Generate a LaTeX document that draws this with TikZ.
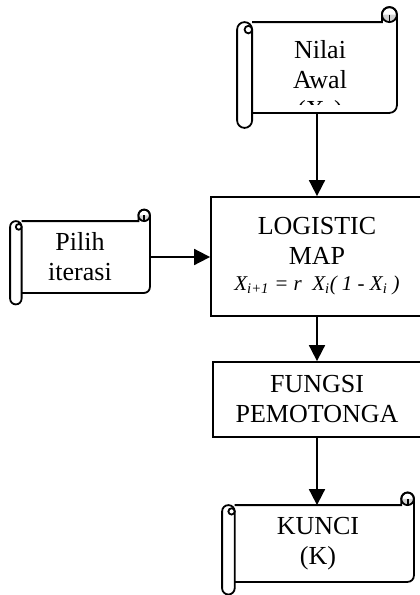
\documentclass[tikz,border=0pt]{standalone}
\usepackage{fontspec}
\setmainfont{Liberation Serif}
\usetikzlibrary{calc,arrows.meta}

% scroll round a node: #1 node name, #2 size of the curl
\newcommand{\scrollshape}[2]{%
  \draw ($(#1.north west)+(#2,0)$) -- ($(#1.north east)+(-#2,0)$) -- ++(0,#2/2)
    arc[start angle=180,end angle=0,radius=#2/2] -- ($(#1.south east)+(0,#2/2)$)
    arc[start angle=0,end angle=-90,radius=#2/2] -- ($(#1.south west)+(#2,0)$);
  \fill[gray!35] ($(#1.north east)+(-#2,#2/2)$) arc[start angle=180,end angle=360,radius=#2/2] -- cycle;
  \draw ($(#1.north east)+(-#2/2,#2/2)$) circle[radius=#2/2];
  \draw ($(#1.north east)+(-#2/2,#2/2)$) -- ($(#1.north east)+(-#2/2,0)$);
  \draw[fill=white] ($(#1.north west)+(#2,-#2/2)$) arc[start angle=0,end angle=180,radius=#2/2]
    -- ($(#1.south west)+(0,-#2/2)$) arc[start angle=180,end angle=360,radius=#2/2] -- cycle;
  \draw[fill=white] ($(#1.north west)+(3*#2/4,-#2/2)$) circle[radius=#2/4];
}

\begin{document}
\begin{tikzpicture}[x=1pt,y=1pt,line width=1.8pt,
  every node/.style={font=\fontsize{26}{30}\selectfont, align=center},
  box/.style={draw, inner sep=0pt},
  arr/.style={-{Triangle[length=16pt,width=16pt]}}]
	\useasboundingbox (0,0) rectangle (420,-595);

	\node[minimum width=158pt, minimum height=89pt, inner sep=0pt] (awal) at (317,-67.5) {};
	\node[box, minimum width=212pt, minimum height=119pt] (logistic) at (317,-256.5)
		{LOGISTIC\\MAP\\[-4pt]{\fontsize{21}{25}\selectfont\itshape X\textsubscript{i+1} = r \ X\textsubscript{i}( 1 - X\textsubscript{i} )}};
	\node[minimum width=138pt, minimum height=70pt, inner sep=0pt] (pilih) at (80,-257) {Pilih\\iterasi};
	\node[box, minimum width=208pt, minimum height=75pt] (fungsi) at (317,-399.5) {FUNGSI\\PEMOTONGA};
	\node[minimum width=190pt, minimum height=75pt, inner sep=0pt] (kunci) at (318,-543.5) {KUNCI\\(K)};

	\scrollshape{awal}{15}
	\scrollshape{pilih}{11.5}
	\scrollshape{kunci}{12.6}

	% text of the first scroll runs past its bottom
	\begin{scope}
		\clip (awal.north west) rectangle ($(awal.south east)+(0,8)$);
		\node[anchor=north, inner sep=0pt] (awaltxt) at ([xshift=3pt,yshift=-17pt]awal.north) {Nilai\\Awal\\(X\textsubscript{0})};
	\end{scope}

	\draw[arr] (awal.south) -- (awal.south |- logistic.north);
	\draw[arr] (pilih.east) -- (pilih.east -| logistic.west);
	\draw[arr] (logistic.south) -- (fungsi.north);
	\draw[arr] (fungsi.south) -- (fungsi.south |- kunci.north);
\end{tikzpicture}
\end{document}
